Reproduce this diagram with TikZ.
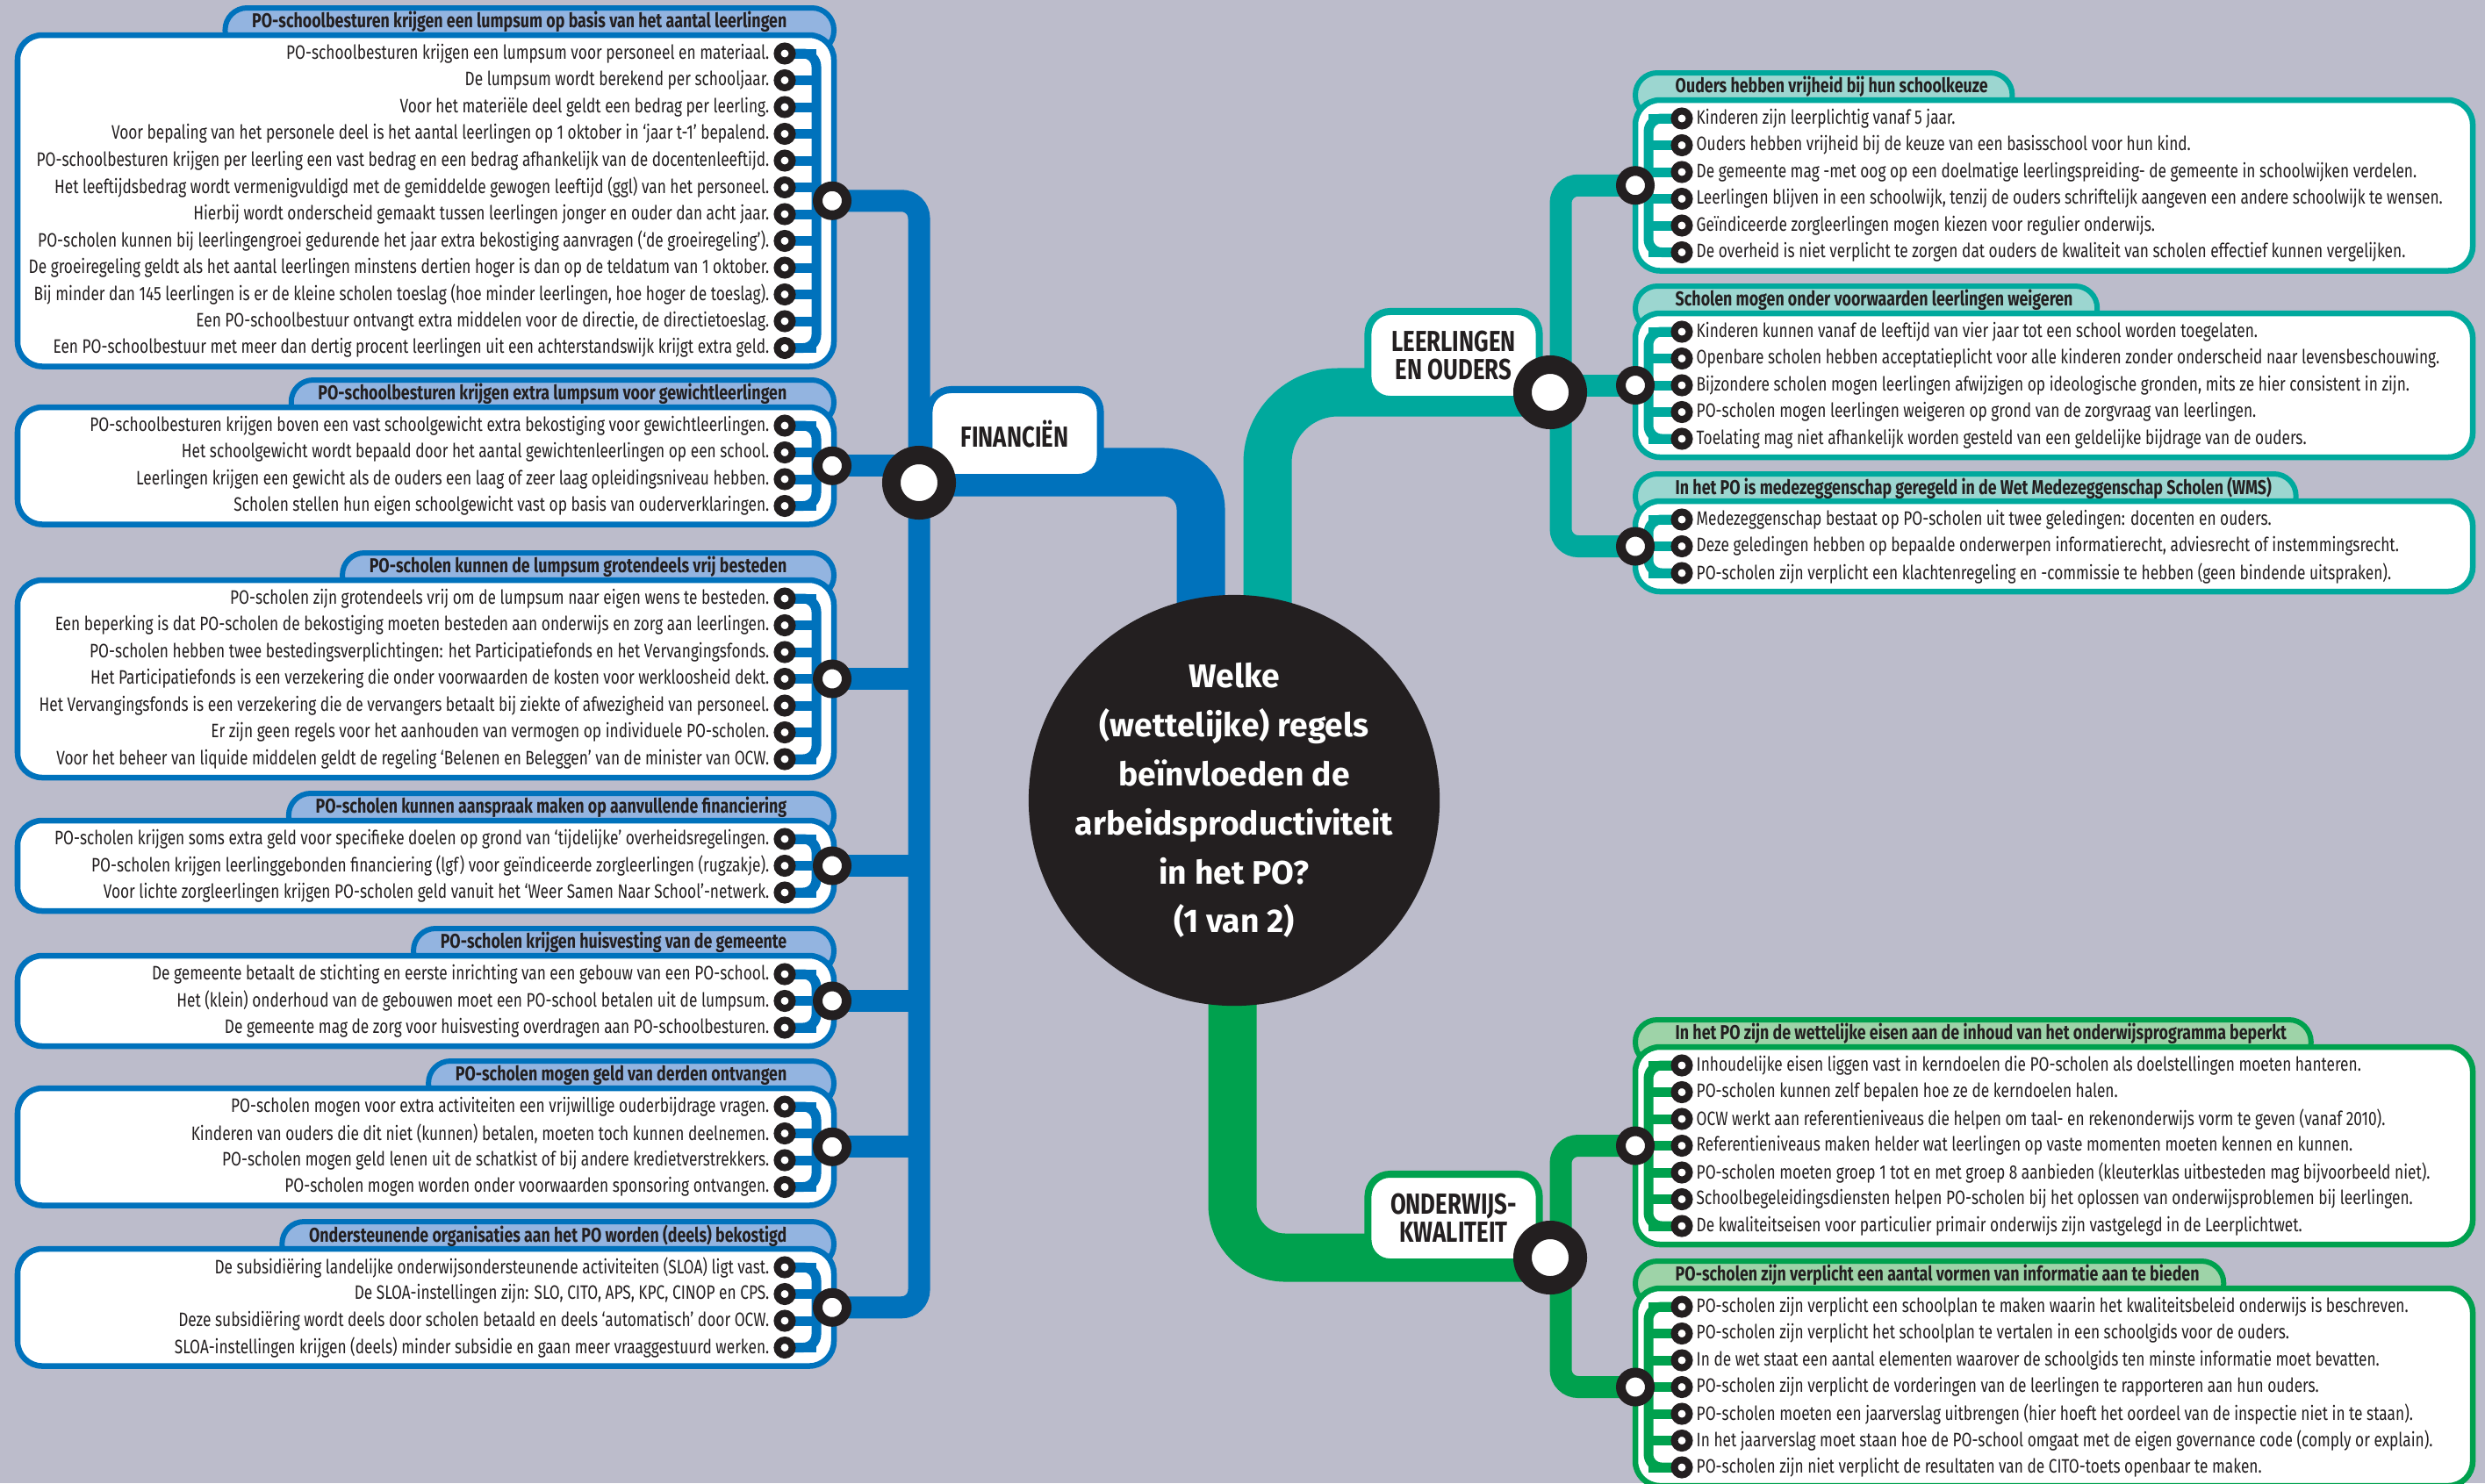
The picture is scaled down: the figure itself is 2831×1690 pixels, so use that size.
\documentclass[tikz,border=0pt]{standalone}
\usepackage{fontspec}
\usetikzlibrary{calc}
\newfontfamily\condfont[FakeStretch=0.78]{Fira Sans}
\newfontfamily\headfont{Fira Sans}

\definecolor{paper}{RGB}{188,188,203}
\definecolor{ink}{RGB}{35,31,32}
\definecolor{fin}{RGB}{0,114,188}
\definecolor{finlt}{RGB}{147,180,224}
\definecolor{lo}{RGB}{0,169,157}
\definecolor{lolt}{RGB}{156,214,208}
\definecolor{ok}{RGB}{0,161,78}
\definecolor{oklt}{RGB}{158,211,168}

\pgfdeclarelayer{paper}
\pgfdeclarelayer{links}
\pgfdeclarelayer{boxes}
\pgfdeclarelayer{wires}
\pgfsetlayers{paper,links,boxes,wires,main}

\tikzset{
  itemtxt/.style={font=\condfont\fontsize{6.3}{7}\selectfont, text=ink, inner sep=0pt},
  tabtitle/.style={font=\condfont\bfseries\fontsize{6.5}{7}\selectfont, text=ink, inner sep=0pt},
  itemdot/.style={circle, draw=ink, fill=white, line width=0.08cm, minimum size=0.17cm, inner sep=0pt},
  paneldot/.style={circle, draw=ink, fill=white, line width=0.11cm, minimum size=0.33cm, inner sep=0pt},
  hub/.style={circle, draw=ink, fill=white, line width=0.21cm, minimum size=0.63cm, inner sep=0pt},
  paneltab/.style={draw=#1, fill=#1lt, line width=0.06cm, rounded corners=0.25cm},
  panelbody/.style={draw=#1, fill=white, line width=0.065cm, rounded corners=0.28cm},
  wire/.style={draw=#1, line width=0.11cm, rounded corners=0.15cm},
  trunk/.style={draw=#1, line width=0.25cm, rounded corners=0.2cm},
  thickbar/.style={draw=#1, line width=0.55cm},
  catbox/.style={draw=#1, fill=white, line width=0.08cm, rounded corners=0.25cm,
    minimum width=1.95cm, minimum height=1.0cm, align=center, text=ink,
    font=\condfont\bfseries\fontsize{9.4}{9.2}\selectfont},
}

% panel on the left: id, top, number of items, title, items
\def\leftpanel#1#2#3#4#5{%
  \pgfmathsetmacro\pbot{#2+42+(#3-1)*30.5}
  \pgfmathsetmacro\pmid{#2+21+(#3-1)*15.25}
  \node[tabtitle, anchor=east] (ttl#1) at (897,#2-15) {#4};
  \begin{pgfonlayer}{boxes}
    \draw[paneltab=fin] ($(ttl#1.west)+(-30,-16)$) rectangle (950,#2+20);
    \draw[panelbody=fin] (20,#2) rectangle (950,\pbot);
  \end{pgfonlayer}
  \coordinate (b#1) at (930,\pmid);
  \foreach \txt [count=\i] in {#5} {
    \pgfmathsetmacro\yy{#2+21+(\i-1)*30.5}
    \node[itemdot] (d#1i\i) at (894,\yy) {};
    \node[itemtxt, anchor=east] (t#1i\i) at (877,\yy) {\txt};
    \begin{pgfonlayer}{wires}
      \draw[wire=fin] (d#1i\i.center) -- (d#1i\i.center -| b#1);
    \end{pgfonlayer}
  }
  \begin{pgfonlayer}{wires}
    \draw[wire=fin] (d#1i1.center) -| (b#1) |- (d#1i#3.center);
  \end{pgfonlayer}
  \node[paneldot] (p#1) at (948,\pmid) {};
}

% panel on the right: id, top, number of items, colour, title, items
\def\rightpanel#1#2#3#4#5#6{%
  \pgfmathsetmacro\pbot{#2+42+(#3-1)*30.5}
  \pgfmathsetmacro\pmid{#2+21+(#3-1)*15.25}
  \node[tabtitle, anchor=west] (ttl#1) at (1908,#2-15) {#5};
  \begin{pgfonlayer}{boxes}
    \draw[paneltab=#4] (1863,#2+20) rectangle ($(ttl#1.east)+(27,-16)$);
    \draw[panelbody=#4] (1863,#2) rectangle (2817,\pbot);
  \end{pgfonlayer}
  \coordinate (b#1) at (1878,\pmid);
  \foreach \txt [count=\i] in {#6} {
    \pgfmathsetmacro\yy{#2+21+(\i-1)*30.5}
    \node[itemdot] (d#1i\i) at (1916,\yy) {};
    \node[itemtxt, anchor=west] (t#1i\i) at (1932,\yy) {\txt};
    \begin{pgfonlayer}{wires}
      \draw[wire=#4] (d#1i\i.center) -- (d#1i\i.center -| b#1);
    \end{pgfonlayer}
  }
  \begin{pgfonlayer}{wires}
    \draw[wire=#4] (d#1i1.center) -| (b#1) |- (d#1i#3.center);
  \end{pgfonlayer}
  \node[paneldot] (p#1) at (1863,\pmid) {};
}

\begin{document}
\begin{tikzpicture}[x=0.01cm, y=-0.01cm]
\useasboundingbox (0,0) rectangle (2831,1690);
\begin{pgfonlayer}{paper}
  \fill[paper] (0,0) rectangle (2831,1690);
\end{pgfonlayer}

% centre question
\node[circle, fill=ink, minimum size=4.68cm, inner sep=0pt] (ctr) at (1406,912) {};
\node[align=center, text=white, font=\headfont\bfseries\fontsize{10.6}{15.9}\selectfont]
  (ctrtxt) at (ctr.center) {Welke\\(wettelijke) regels\\beïnvloeden de\\arbeidsproductiviteit\\in het PO?\\(1 van 2)};
\coordinate (fdrop) at (1368,912);
\coordinate (ldrop) at (1444,912);
\coordinate (odrop) at (1404,912);

% main branches
\node[catbox=fin] (finlab) at (1156,494) {FINANCIËN};
\node[catbox=lo] (lolab) at (1656,405) {LEERLINGEN\\EN OUDERS};
\node[catbox=ok] (oklab) at (1656,1388) {ONDERWIJS-\\KWALITEIT};
\node[hub] (hubF) at (1047,550) {};
\node[hub] (hubL) at (1766,447) {};
\node[hub] (hubO) at (1766,1433) {};
\coordinate (ftrunk) at (1047,860);
\coordinate (ltrunk) at (1778,400);
\coordinate (otrunk) at (1778,1450);

% financien
\leftpanel{L1}{40}{12}{PO-schoolbesturen krijgen een lumpsum op basis van het aantal leerlingen}{
  {PO-schoolbesturen krijgen een lumpsum voor personeel en materiaal.},
  {De lumpsum wordt berekend per schooljaar.},
  {Voor het materiële deel geldt een bedrag per leerling.},
  {Voor bepaling van het personele deel is het aantal leerlingen op 1 oktober in ‘jaar t-1’ bepalend.},
  {PO-schoolbesturen krijgen per leerling een vast bedrag en een bedrag afhankelijk van de docentenleeftijd.},
  {Het leeftijdsbedrag wordt vermenigvuldigd met de gemiddelde gewogen leeftijd (ggl) van het personeel.},
  {Hierbij wordt onderscheid gemaakt tussen leerlingen jonger en ouder dan acht jaar.},
  {PO-scholen kunnen bij leerlingengroei gedurende het jaar extra bekostiging aanvragen (‘de groeiregeling’).},
  {De groeiregeling geldt als het aantal leerlingen minstens dertien hoger is dan op de teldatum van 1 oktober.},
  {Bij minder dan 145 leerlingen is er de kleine scholen toeslag (hoe minder leerlingen, hoe hoger de toeslag).},
  {Een PO-schoolbestuur ontvangt extra middelen voor de directie, de directietoeslag.},
  {Een PO-schoolbestuur met meer dan dertig procent leerlingen uit een achterstandswijk krijgt extra geld.}}
\leftpanel{L2}{464}{4}{PO-schoolbesturen krijgen extra lumpsum voor gewichtleerlingen}{
  {PO-schoolbesturen krijgen boven een vast schoolgewicht extra bekostiging voor gewichtleerlingen.},
  {Het schoolgewicht wordt bepaald door het aantal gewichtenleerlingen op een school.},
  {Leerlingen krijgen een gewicht als de ouders een laag of zeer laag opleidingsniveau hebben.},
  {Scholen stellen hun eigen schoolgewicht vast op basis van ouderverklaringen.}}
\leftpanel{L3}{661}{7}{PO-scholen kunnen de lumpsum grotendeels vrij besteden}{
  {PO-scholen zijn grotendeels vrij om de lumpsum naar eigen wens te besteden.},
  {Een beperking is dat PO-scholen de bekostiging moeten besteden aan onderwijs en zorg aan leerlingen.},
  {PO-scholen hebben twee bestedingsverplichtingen: het Participatiefonds en het Vervangingsfonds.},
  {Het Participatiefonds is een verzekering die onder voorwaarden de kosten voor werkloosheid dekt.},
  {Het Vervangingsfonds is een verzekering die de vervangers betaalt bij ziekte of afwezigheid van personeel.},
  {Er zijn geen regels voor het aanhouden van vermogen op individuele PO-scholen.},
  {Voor het beheer van liquide middelen geldt de regeling ‘Belenen en Beleggen’ van de minister van OCW.}}
\leftpanel{L4}{935}{3}{PO-scholen kunnen aanspraak maken op aanvullende financiering}{
  {PO-scholen krijgen soms extra geld voor specifieke doelen op grond van ‘tijdelijke’ overheidsregelingen.},
  {PO-scholen krijgen leerlinggebonden financiering (lgf) voor geïndiceerde zorgleerlingen (rugzakje).},
  {Voor lichte zorgleerlingen krijgen PO-scholen geld vanuit het ‘Weer Samen Naar School’-netwerk.}}
\leftpanel{L5}{1089}{3}{PO-scholen krijgen huisvesting van de gemeente}{
  {De gemeente betaalt de stichting en eerste inrichting van een gebouw van een PO-school.},
  {Het (klein) onderhoud van de gebouwen moet een PO-school betalen uit de lumpsum.},
  {De gemeente mag de zorg voor huisvesting overdragen aan PO-schoolbesturen.}}
\leftpanel{L6}{1240}{4}{PO-scholen mogen geld van derden ontvangen}{
  {PO-scholen mogen voor extra activiteiten een vrijwillige ouderbijdrage vragen.},
  {Kinderen van ouders die dit niet (kunnen) betalen, moeten toch kunnen deelnemen.},
  {PO-scholen mogen geld lenen uit de schatkist of bij andere kredietverstrekkers.},
  {PO-scholen mogen worden onder voorwaarden sponsoring ontvangen.}}
\leftpanel{L7}{1423}{4}{Ondersteunende organisaties aan het PO worden (deels) bekostigd}{
  {De subsidiëring landelijke onderwijsondersteunende activiteiten (SLOA) ligt vast.},
  {De SLOA-instellingen zijn: SLO, CITO, APS, KPC, CINOP en CPS.},
  {Deze subsidiëring wordt deels door scholen betaald en deels ‘automatisch’ door OCW.},
  {SLOA-instellingen krijgen (deels) minder subsidie en gaan meer vraaggestuurd werken.}}

% leerlingen en ouders
\rightpanel{R1}{114}{6}{lo}{Ouders hebben vrijheid bij hun schoolkeuze}{
  {Kinderen zijn leerplichtig vanaf 5 jaar.},
  {Ouders hebben vrijheid bij de keuze van een basisschool voor hun kind.},
  {De gemeente mag -met oog op een doelmatige leerlingspreiding- de gemeente in schoolwijken verdelen.},
  {Leerlingen blijven in een schoolwijk, tenzij de ouders schriftelijk aangeven een andere schoolwijk te wensen.},
  {Geïndiceerde zorgleerlingen mogen kiezen voor regulier onderwijs.},
  {De overheid is niet verplicht te zorgen dat ouders de kwaliteit van scholen effectief kunnen vergelijken.}}
\rightpanel{R2}{357}{5}{lo}{Scholen mogen onder voorwaarden leerlingen weigeren}{
  {Kinderen kunnen vanaf de leeftijd van vier jaar tot een school worden toegelaten.},
  {Openbare scholen hebben acceptatieplicht voor alle kinderen zonder onderscheid naar levensbeschouwing.},
  {Bijzondere scholen mogen leerlingen afwijzigen op ideologische gronden, mits ze hier consistent in zijn.},
  {PO-scholen mogen leerlingen weigeren op grond van de zorgvraag van leerlingen.},
  {Toelating mag niet afhankelijk worden gesteld van een geldelijke bijdrage van de ouders.}}
\rightpanel{R3}{571}{3}{lo}{In het PO is medezeggenschap geregeld in de Wet Medezeggenschap Scholen (WMS)}{
  {Medezeggenschap bestaat op PO-scholen uit twee geledingen: docenten en ouders.},
  {Deze geledingen hebben op bepaalde onderwerpen informatierecht, adviesrecht of instemmingsrecht.},
  {PO-scholen zijn verplicht een klachtenregeling en -commissie te hebben (geen bindende uitspraken).}}

% onderwijskwaliteit
\rightpanel{R4}{1193}{7}{ok}{In het PO zijn de wettelijke eisen aan de inhoud van het onderwijsprogramma beperkt}{
  {Inhoudelijke eisen liggen vast in kerndoelen die PO-scholen als doelstellingen moeten hanteren.},
  {PO-scholen kunnen zelf bepalen hoe ze de kerndoelen halen.},
  {OCW werkt aan referentieniveaus die helpen om taal- en rekenonderwijs vorm te geven (vanaf 2010).},
  {Referentieniveaus maken helder wat leerlingen op vaste momenten moeten kennen en kunnen.},
  {PO-scholen moeten groep 1 tot en met groep 8 aanbieden (kleuterklas uitbesteden mag bijvoorbeeld niet).},
  {Schoolbegeleidingsdiensten helpen PO-scholen bij het oplossen van onderwijsproblemen bij leerlingen.},
  {De kwaliteitseisen voor particulier primair onderwijs zijn vastgelegd in de Leerplichtwet.}}
\rightpanel{R5}{1468}{7}{ok}{PO-scholen zijn verplicht een aantal vormen van informatie aan te bieden}{
  {PO-scholen zijn verplicht een schoolplan te maken waarin het kwaliteitsbeleid onderwijs is beschreven.},
  {PO-scholen zijn verplicht het schoolplan te vertalen in een schoolgids voor de ouders.},
  {In de wet staat een aantal elementen waarover de schoolgids ten minste informatie moet bevatten.},
  {PO-scholen zijn verplicht de vorderingen van de leerlingen te rapporteren aan hun ouders.},
  {PO-scholen moeten een jaarverslag uitbrengen (hier hoeft het oordeel van de inspectie niet in te staan).},
  {In het jaarverslag moet staan hoe de PO-school omgaat met de eigen governance code (comply or explain).},
  {PO-scholen zijn niet verplicht de resultaten van de CITO-toets openbaar te maken.}}

% connectors
\begin{pgfonlayer}{links}
  \draw[thickbar=fin, rounded corners=0.42cm] (hubF.center) ++(0,-12) -| (fdrop);
  \draw[thickbar=lo, rounded corners=0.8cm] (ldrop) |- (hubL.center);
  \draw[thickbar=ok, rounded corners=0.6cm] (odrop) |- (hubO.center);
  \draw[trunk=fin] (pL1.center) -| (ftrunk) |- (pL7.center);
  \foreach \p in {pL2,pL3,pL4,pL5,pL6}
    \draw[trunk=fin] (\p.center) -- (\p.center -| ftrunk);
  \draw[trunk=lo] (pR1.center) -| (ltrunk) |- (pR3.center);
  \draw[trunk=lo] (pR2.center) -- (pR2.center -| ltrunk);
  \draw[trunk=ok] (pR4.center) -| (otrunk) |- (pR5.center);
\end{pgfonlayer}
\end{tikzpicture}
\end{document}
